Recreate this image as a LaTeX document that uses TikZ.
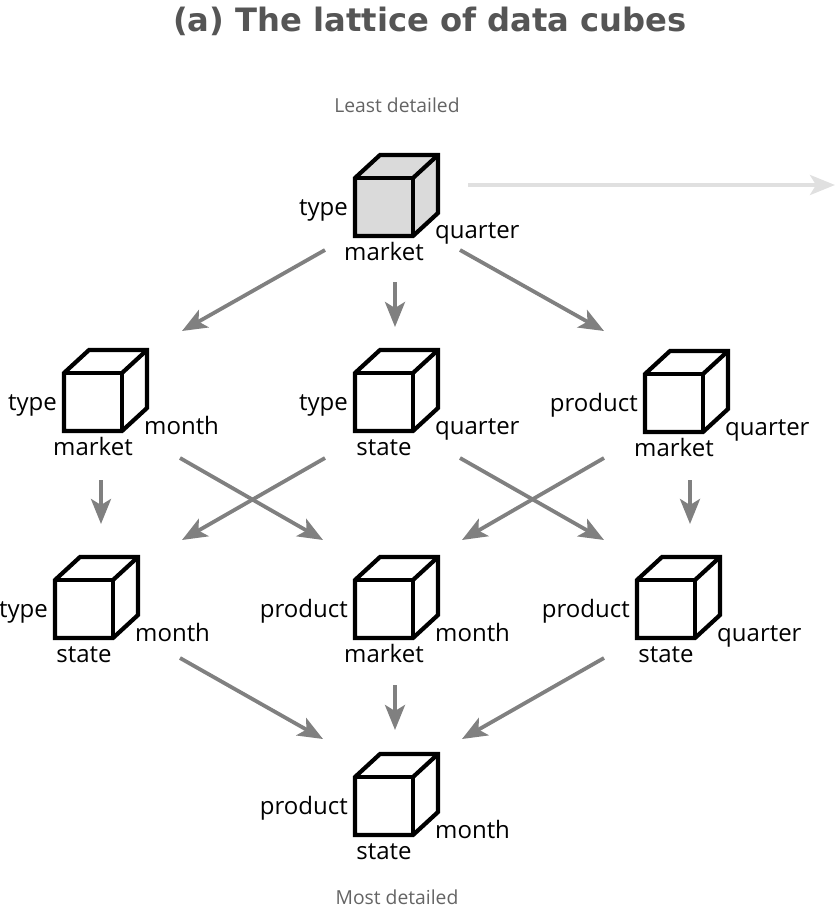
\documentclass[tikz,border=0pt]{standalone}
\usepackage{fontspec}
\setmainfont{Open Sans}
\newfontfamily\titlefont{DejaVu Sans}
\usetikzlibrary{positioning,arrows.meta}
\definecolor{flowgray}{RGB}{128,128,128}
\definecolor{palegray}{RGB}{224,224,224}
\definecolor{cubegray}{RGB}{218,218,218}
\definecolor{textgray}{RGB}{100,100,100}
\definecolor{titlegray}{RGB}{85,85,85}
\tikzset{
  cube/.style={minimum size=58pt,inner sep=0pt,outer sep=0pt},
  cubeline/.style={line width=4.2pt,line join=miter},
  dim/.style={font=\fontsize{24}{24}\selectfont,inner sep=0pt,text height=19pt,text depth=3pt},
  flow/.style={draw=flowgray,line width=3.8pt,-{Stealth[length=25pt,width=20pt,inset=6pt]}},
  note/.style={font=\fontsize{19.3}{19.3}\selectfont,text=textgray,inner sep=0pt}
}
% cube: name, x, y (centre of the front face), fill, left, bottom, right label
\newcommand{\datacube}[7]{
  \node[cube] (#1) at (#2,#3) {};
  \coordinate (#1a) at ([shift={(25,-23)}]#1.north west);
  \coordinate (#1b) at ([shift={(25,-23)}]#1.north east);
  \coordinate (#1c) at ([shift={(25,-23)}]#1.south east);
  \draw[cubeline,fill=#4] (#1.north west)--(#1a)--(#1b)--(#1c)--(#1.south east)--(#1.south west)--cycle;
  \draw[cubeline] (#1.south east)--(#1.north east)--(#1.north west);
  \draw[cubeline] (#1.north east)--(#1b);
  \node[dim,left=7pt of #1] (#1l) {#5};
  \node[dim,below=5pt of #1] (#1d) {#6};
  \node[dim,anchor=west] (#1r) at ([shift={(22,-5)}]#1.south east) {#7};
}
\begin{document}
\begin{tikzpicture}[x=1pt,y=-1pt]
\useasboundingbox (0,0) rectangle (836,909);
\node[font=\titlefont\bfseries\fontsize{32.2}{32.2}\selectfont,text=titlegray,inner sep=0pt] (title) at (430,21) {(a) The lattice of data cubes};
\node[note] (least) at (397,105) {Least detailed};
\node[note] (most) at (397,897) {Most detailed};
\datacube{q0}{384}{207}{cubegray}{type}{market}{quarter}
\datacube{q1}{93}{402}{white}{type}{market}{month}
\datacube{q2}{384}{402}{white}{type}{state}{quarter}
\datacube{q3}{674}{403}{white}{product}{market}{quarter}
\datacube{q4}{84}{609}{white}{type}{state}{month}
\datacube{q5}{384}{609}{white}{product}{market}{month}
\datacube{q6}{666}{609}{white}{product}{state}{quarter}
\datacube{q7}{384}{806}{white}{product}{state}{month}
% free ends of the arrows
\foreach \name/\x/\y in {a0/468/185,a1/835/185,
  b0/325/250,b1/182/331,b2/395/282,b3/395/327,b4/460/250,b5/604/331,
  c0/180/458,c1/323/540,c2/325/458,c3/182/540,c4/460/458,c5/604/540,c6/604/458,c7/462/540,
  d0/101/480,d1/101/524,d2/690/480,d3/690/524,
  e0/180/658,e1/323/739,e2/395/685,e3/395/730,e4/604/658,e5/462/739}
  \coordinate (\name) at (\x,\y);
\draw[flow,draw=palegray] (a0)--(a1);
\foreach \from/\to in {b0/b1,b2/b3,b4/b5,c0/c1,c2/c3,c4/c5,c6/c7,d0/d1,d2/d3,e0/e1,e2/e3,e4/e5}
  \draw[flow] (\from)--(\to);
\end{tikzpicture}
\end{document}
